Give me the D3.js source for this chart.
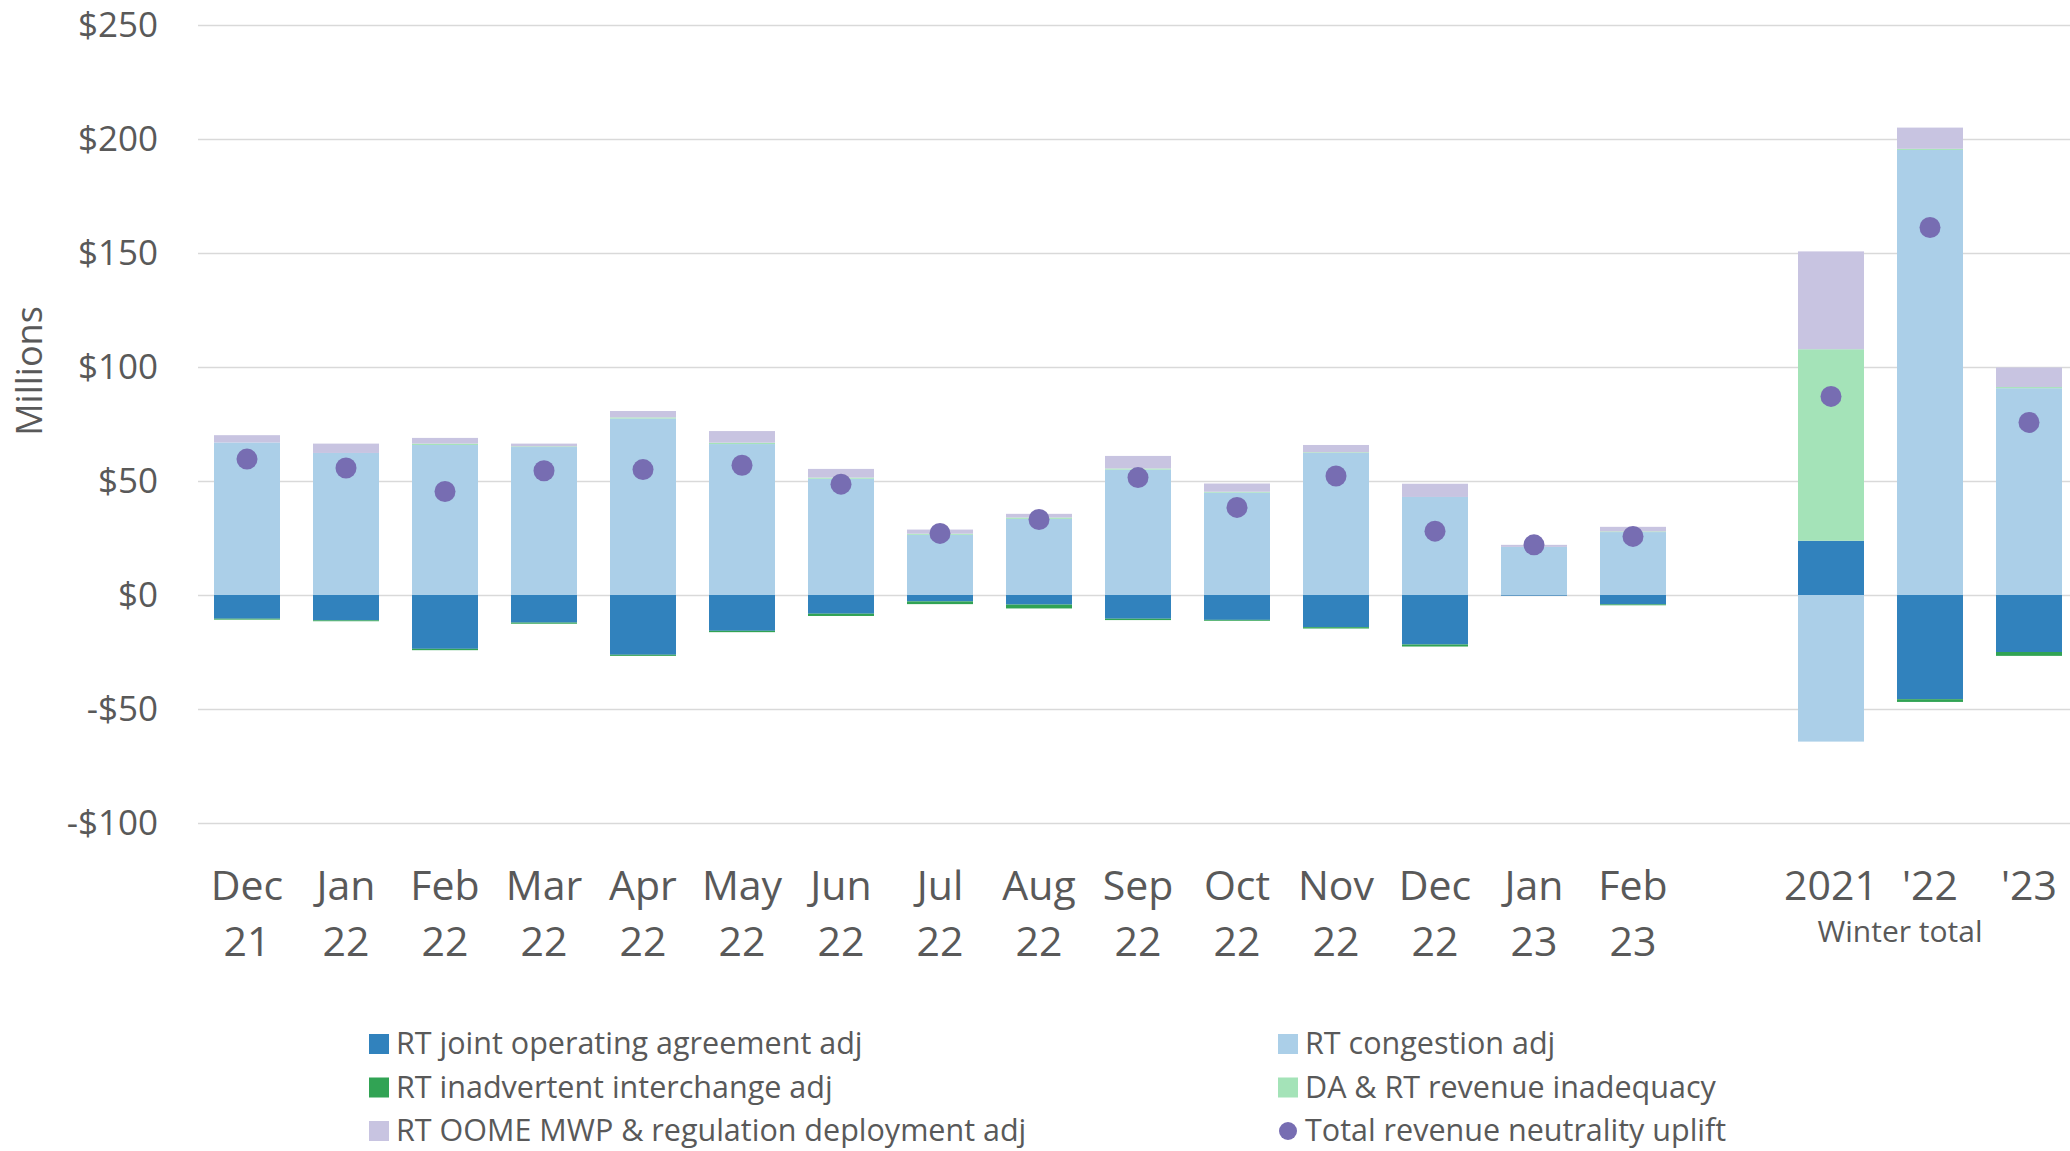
<!DOCTYPE html>
<html>
<head>
<meta charset="utf-8">
<script src="https://cdn.jsdelivr.net/npm/d3@7"></script>
<style>
  body { margin: 0; background: #fff; }
  text { font-family: "Open Sans", "Noto Sans", sans-serif; fill: #595959; }
</style>
</head>
<body>
<div id="chart"></div>
<script>
// categories (empty string = spacer slot between months and winter totals)
var catTop = ["Dec", "Jan", "Feb", "Mar", "Apr", "May", "Jun", "Jul", "Aug", "Sep", "Oct", "Nov", "Dec", "Jan", "Feb", "", "2021", "'22", "'23"];
var catBottom = ["21", "22", "22", "22", "22", "22", "22", "22", "22", "22", "22", "22", "22", "23", "23", "", "", "", ""];

// series values, $ millions
var joa =   [-10.4, -11.1, -23.6, -12.1, -26.2, -15.7, -8.2, -2.8, -4.2, -10.4, -10.9, -14.1, -21.7, -0.3, -4.1, null, 23.8, -45.7, -25.0];
var cong =  [66.9, 62.3, 65.8, 64.9, 77.4, 66.2, 51.0, 26.4, 33.4, 55.0, 44.9, 62.3, 43.0, 21.1, 27.6, null, -64.3, 195.2, 90.7];
var inadv = [-0.4, -0.4, -0.6, -0.5, -0.5, -0.6, -1.0, -1.2, -1.7, -0.6, -0.4, -0.6, -0.9, 0, -0.4, null, 0, -1.2, -1.7];
var da =    [0, 0, 0.6, 0.3, 0.5, 0.6, 0.5, 0.5, 0.6, 0.5, 0.4, 0.3, 0, 0, 0.3, null, 84.0, 0.5, 0.5];
var oome =  [3.2, 4.1, 2.5, 1.2, 2.8, 5.1, 3.8, 1.8, 1.6, 5.5, 3.6, 3.2, 5.8, 0.9, 2.0, null, 42.9, 9.3, 8.6];
var total = [59.6, 55.7, 45.4, 54.5, 55.0, 56.9, 48.6, 27.0, 33.1, 51.5, 38.4, 52.2, 28.0, 22.0, 25.7, null, 87.1, 161.2, 75.7];

var yTicks = [-100, -50, 0, 50, 100, 150, 200, 250];

var seriesKeys = ["joa", "cong", "inadv", "da", "oome"];
var seriesNames = {
    joa: "RT joint operating agreement adj",
    cong: "RT congestion adj",
    inadv: "RT inadvertent interchange adj",
    da: "DA & RT revenue inadequacy",
    oome: "RT OOME MWP & regulation deployment adj",
    total: "Total revenue neutrality uplift"
};
var colors = {
    joa: "#3182bd",
    cong: "#abcfe8",
    inadv: "#31a354",
    da: "#a4e3b8",
    oome: "#c8c4e1",
    total: "#776db2"
};

var W = 2070, H = 1151;
var margin = { top: 25, left: 198 };
var step = 99;

var svg = d3.select("#chart").append("svg")
    .attr("width", W)
    .attr("height", H);

var rows = [];
catTop.forEach(function (c, i) {
    if (c === "") return;
    rows.push({ i: i, joa: joa[i], cong: cong[i], inadv: inadv[i], da: da[i], oome: oome[i], total: total[i] });
});

var x = d3.scaleBand()
    .domain(d3.range(catTop.length))
    .range([margin.left - 0.5, margin.left - 0.5 + step * catTop.length])
    .paddingInner(1 / 3)
    .paddingOuter(1 / 6);

var y = d3.scaleLinear()
    .domain([-100, 250])
    .range([margin.top + 798, margin.top]);

// gridlines
svg.append("g")
    .attr("class", "grid")
    .attr("transform", "translate(" + margin.left + ",0)")
    .call(d3.axisLeft(y).tickValues(yTicks).tickSize(-(W - margin.left)).tickFormat(""))
    .call(function (g) { g.select(".domain").remove(); })
    .selectAll("line")
    .attr("stroke", "#d9d9d9")
    .attr("stroke-width", 1.5);

// y labels
svg.append("g")
    .attr("transform", "translate(158,0)")
    .call(d3.axisLeft(y).tickValues(yTicks).tickSize(0).tickPadding(0)
        .tickFormat(function (d) { return d < 0 ? "-$" + Math.abs(d) : "$" + d; }))
    .call(function (g) { g.select(".domain").remove(); })
    .selectAll("text")
    .attr("font-size", 35)
    .attr("fill", "#595959")
    .style("font-family", "'Open Sans', sans-serif");

svg.append("text")
    .attr("transform", "translate(42,371) rotate(-90)")
    .attr("text-anchor", "middle")
    .attr("font-size", 36)
    .text("Millions");

// stacked bars
var stack = d3.stack()
    .keys(seriesKeys)
    .offset(d3.stackOffsetDiverging);

var layers = svg.append("g").selectAll("g")
    .data(stack(rows))
    .enter().append("g")
    .attr("fill", function (d) { return colors[d.key]; });

layers.selectAll("rect")
    .data(function (d) { return d; })
    .enter().append("rect")
    .attr("x", function (d) { return x(d.data.i); })
    .attr("width", x.bandwidth())
    .attr("y", function (d) { return y(Math.max(d[0], d[1])); })
    .attr("height", function (d) { return Math.abs(y(d[0]) - y(d[1])); });

// total dots
svg.append("g").selectAll("circle")
    .data(rows)
    .enter().append("circle")
    .attr("cx", function (d) { return x(d.i) + x.bandwidth() / 2; })
    .attr("cy", function (d) { return y(d.total); })
    .attr("r", 10.5)
    .attr("fill", colors.total);

// category labels
var xl = svg.append("g").selectAll("text")
    .data(catTop)
    .enter().append("text")
    .attr("text-anchor", "middle")
    .attr("font-size", 41)
    .attr("x", function (d, i) { return x(i) + x.bandwidth() / 2; })
    .attr("y", 900);
xl.append("tspan").text(function (d) { return d; });
xl.append("tspan")
    .attr("x", function (d, i) { return x(i) + x.bandwidth() / 2; })
    .attr("dy", 56)
    .text(function (d, i) { return catBottom[i]; });

svg.append("text")
    .attr("x", 1900)
    .attr("y", 942)
    .attr("text-anchor", "middle")
    .attr("font-size", 30)
    .text("Winter total");

// legend
var legendItems = ["joa", "cong", "inadv", "da", "oome", "total"];
var legend = svg.append("g").selectAll("g")
    .data(legendItems)
    .enter().append("g")
    .attr("transform", function (d, i) {
        return "translate(" + (i % 2 === 0 ? 369 : 1278) + "," + (1054 + Math.floor(i / 2) * 43.5) + ")";
    });

legend.each(function (d) {
    var g = d3.select(this);
    if (d === "total") {
        g.append("circle").attr("cx", 10).attr("cy", -10).attr("r", 9).attr("fill", colors[d]);
    } else {
        g.append("rect").attr("x", 0).attr("y", -20).attr("width", 20).attr("height", 20).attr("fill", colors[d]);
    }
    g.append("text")
        .attr("x", 27)
        .attr("font-size", 30.5)
        .text(seriesNames[d]);
});
</script>
</body>
</html>
